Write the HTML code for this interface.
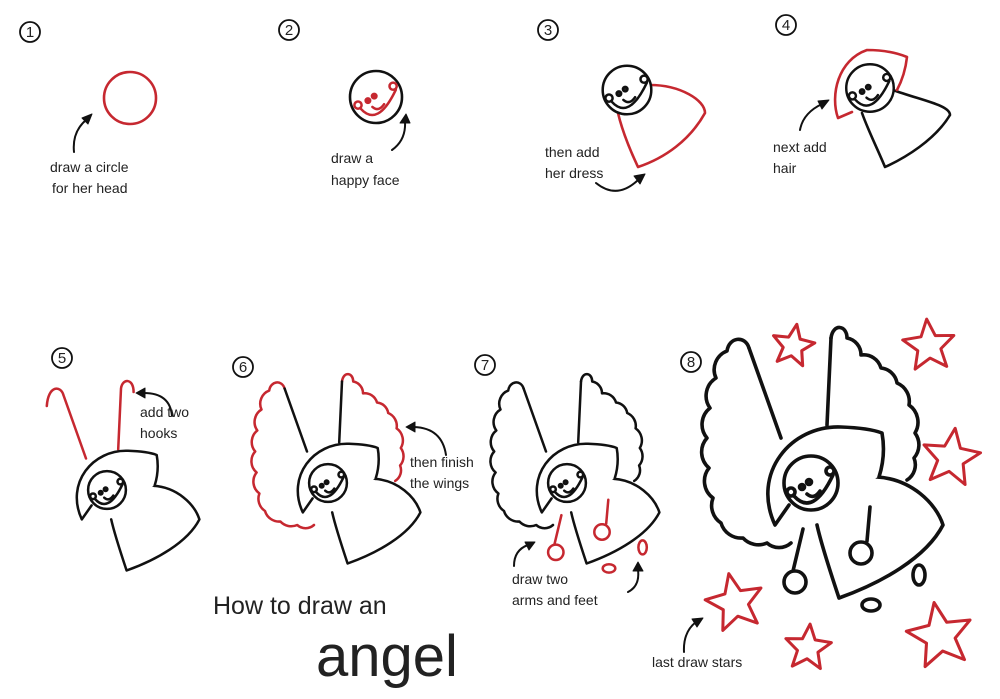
<!DOCTYPE html>
<html><head><meta charset="utf-8"><style>
html,body{margin:0;padding:0;background:#fff;width:1000px;height:699px;overflow:hidden}
svg{display:block}
text{font-family:"Liberation Sans",sans-serif;fill:#222}
.t{font-size:14px}
.n{font-size:15px;text-anchor:middle}
</style></head><body>
<svg width="1000" height="699" viewBox="0 0 1000 699" xmlns="http://www.w3.org/2000/svg">
<defs>
<path id="star" d="M0,-1 L0.265,-0.364 L0.951,-0.309 L0.428,0.139 L0.588,0.809 L0,0.45 L-0.588,0.809 L-0.428,0.139 L-0.951,-0.309 L-0.265,-0.364 Z"/>
<g id="face">
<circle cx="0" cy="0" r="27" fill="#fff"/>
<circle cx="-20" cy="9" r="4" fill="none"/>
<circle cx="19" cy="-12" r="4" fill="none"/>
<path d="M-17,13 Q2,34 22,-8" fill="none"/>
<circle cx="-9" cy="4" r="2.5" fill="#222"/>
<circle cx="-2" cy="-1" r="2.5" fill="#222"/>
<path d="M-4,11 Q3,17 9,8" fill="none"/>
</g>
<path id="hood" d="M-22,22 L-36,42 C-60,-10 -20,-58 30,-56 Q58,-55 71,-50 Q75,-28 68,-6"/>
<path id="dress" d="M66,-6 C100,-4 125,20 132,42 C115,75 70,100 28,115 C18,85 10,60 6,42"/>
<path id="lwi" d="M-30,-45 L-62,-135"/>
<path id="rwi" d="M16,-58 L20,-145"/>
<path id="lws" d="M-62,-135 C-66,-148 -82,-146 -84,-132 A20 20 0 0 0 -95,-105 A21 21 0 0 0 -101,-75 A21 21 0 0 0 -104,-45 A21 21 0 0 0 -102,-15 A21 21 0 0 0 -98,15 A21 21 0 0 0 -90,40 A21 21 0 0 0 -68,55 A21 21 0 0 0 -44,60 A18 18 0 0 0 -20,60"/>
<path id="rws" d="M20,-145 C22,-160 36,-158 36,-145 A17 17 0 0 1 50,-128 A18 18 0 0 1 70,-115 A18 18 0 0 1 86,-100 A20 20 0 0 1 98,-78 A21 21 0 0 1 104,-50 A20 20 0 0 1 103,-25 A18 18 0 0 1 96,-3"/>
<g id="arms"><path d="M59,24 L56,58 M-8,46 L-18,88"/><circle cx="50" cy="70" r="11" fill="#fff"/><circle cx="-16" cy="99" r="11" fill="#fff"/></g>
<g id="feet"><ellipse cx="108" cy="92" rx="6" ry="10" fill="#fff"/><ellipse cx="60" cy="122" rx="9" ry="6" fill="#fff"/></g>
</defs>

<g fill="none" stroke="#111" stroke-width="2.6" stroke-linecap="round" stroke-linejoin="round">
<g stroke-width="1.8">
<circle cx="30" cy="32" r="10"/><circle cx="289" cy="30" r="10"/><circle cx="548" cy="30" r="10"/><circle cx="786" cy="25" r="10"/>
<circle cx="62" cy="358" r="10"/><circle cx="243" cy="367" r="10"/><circle cx="485" cy="365" r="10"/><circle cx="691" cy="362" r="10"/>
</g>
<circle cx="130" cy="98" r="26" stroke="#c62830"/>
<circle cx="376" cy="97" r="26"/>
<g transform="translate(376,97) scale(0.9)" stroke="#c62830" stroke-width="2.8">
<circle cx="-20" cy="9" r="4"/><circle cx="19" cy="-12" r="4"/><path d="M-17,13 Q2,34 22,-8"/>
<circle cx="-9" cy="4" r="2.5" fill="#c62830"/><circle cx="-2" cy="-1" r="2.5" fill="#c62830"/><path d="M-4,11 Q3,17 9,8"/>
</g>
<path d="M650,85 C680,85 705,100 705,113 C690,140 665,158 638,167 C630,150 622,130 618,113" stroke="#c62830"/>
<g transform="translate(627,90) scale(0.9)" stroke-width="2.8"><use href="#face"/></g>
<path d="M893,90 C920,100 950,105 950,115 C935,140 905,158 885,167 C878,150 868,130 862,113"/>
<path d="M852,112 L838,118 C830,95 838,60 867,50 Q890,50 907,57 Q905,75 897,90" stroke="#c62830"/>
<g transform="translate(870,88) scale(0.88)" stroke-width="2.8"><use href="#face"/></g>

<g transform="translate(107,490) scale(0.7)" stroke-width="3.6">
<use href="#dress" fill="#fff"/>
<path d="M-30,-45 L-62,-135 C-66,-150 -84,-150 -86,-120" stroke="#c62830"/>
<path d="M16,-58 L20,-145 C22,-160 38,-160 38,-140" stroke="#c62830"/>
<use href="#hood" fill="#fff"/><use href="#face"/>
</g>
<g transform="translate(328,483) scale(0.7)" stroke-width="3.6">
<use href="#lws" stroke="#c62830"/><use href="#rws" stroke="#c62830"/>
<use href="#lwi"/><use href="#rwi"/>
<use href="#dress" fill="#fff"/>
<use href="#hood" fill="#fff"/><use href="#face"/>
</g>
<g transform="translate(567,483) scale(0.7)" stroke-width="3.6">
<use href="#lws"/><use href="#rws"/><use href="#lwi"/><use href="#rwi"/>
<use href="#feet" stroke="#c62830"/>
<use href="#dress" fill="#fff"/>
<use href="#hood" fill="#fff"/><use href="#face"/>
<use href="#arms" stroke="#c62830"/>
</g>
<g transform="translate(811,483)" stroke-width="3.6">
<use href="#lws"/><use href="#rws"/><use href="#lwi"/><use href="#rwi"/>
<use href="#feet"/>
<use href="#dress" fill="#fff"/>
<use href="#hood" fill="#fff"/><use href="#face"/>
<use href="#arms"/>
</g>
<g stroke="#c62830">
<use href="#star" transform="translate(793,346) rotate(10) scale(22)" style="stroke-width:0.14"/>
<use href="#star" transform="translate(929,346) rotate(-5) scale(27)" style="stroke-width:0.11"/>
<use href="#star" transform="translate(951,458) rotate(8) scale(30)" style="stroke-width:0.1"/>
<use href="#star" transform="translate(735,603) rotate(-12) scale(30)" style="stroke-width:0.1"/>
<use href="#star" transform="translate(808,648) rotate(5) scale(24)" style="stroke-width:0.125"/>
<use href="#star" transform="translate(940,636) rotate(-10) scale(34)" style="stroke-width:0.09"/>
</g>
<g stroke-width="2">
<path d="M74,152 Q72,132 86,120"/><path d="M392,150 Q406,140 405,122"/><path d="M596,183 Q617,200 638,180"/>
<path d="M800,130 Q803,113 822,104"/><path d="M172,416 Q170,393 144,393"/><path d="M446,455 Q442,428 414,427"/>
<path d="M514,566 Q514,550 528,545"/><path d="M628,592 Q640,586 638,570"/><path d="M684,652 Q683,632 696,622"/>
</g>
<g fill="#111" stroke-width="1">
<path d="M92,114 L82,118 L88,124 Z"/><path d="M406,114 L400,123 L410,123 Z"/><path d="M645,174 L634,176 L640,184 Z"/>
<path d="M829,100 L818,101 L822,109 Z"/><path d="M136,393 L145,388 L145,398 Z"/><path d="M406,427 L415,422 L415,432 Z"/>
<path d="M535,542 L525,542 L529,550 Z"/><path d="M638,562 L633,571 L643,571 Z"/><path d="M703,618 L692,619 L697,627 Z"/>
</g>
</g>

<text class="n" x="30" y="37">1</text><text class="n" x="289" y="35">2</text><text class="n" x="548" y="35">3</text><text class="n" x="786" y="30">4</text>
<text class="n" x="62" y="363">5</text><text class="n" x="243" y="372">6</text><text class="n" x="485" y="370">7</text><text class="n" x="691" y="367">8</text>

<text class="t" x="50" y="172">draw a circle</text><text class="t" x="52" y="193">for her head</text>
<text class="t" x="331" y="163">draw a</text><text class="t" x="331" y="185">happy face</text>
<text class="t" x="545" y="157">then add</text><text class="t" x="545" y="178">her dress</text>
<text class="t" x="773" y="152">next add</text><text class="t" x="773" y="173">hair</text>
<text class="t" x="140" y="417">add two</text><text class="t" x="140" y="438">hooks</text>
<text class="t" x="410" y="467">then finish</text><text class="t" x="410" y="488">the wings</text>
<text class="t" x="512" y="584">draw two</text><text class="t" x="512" y="605">arms and feet</text>
<text class="t" x="652" y="667">last draw stars</text>
<text x="213" y="614" style="font-size:25px">How to draw an</text>
<text x="316" y="676" style="font-size:58px">angel</text>
</svg>
</body></html>
